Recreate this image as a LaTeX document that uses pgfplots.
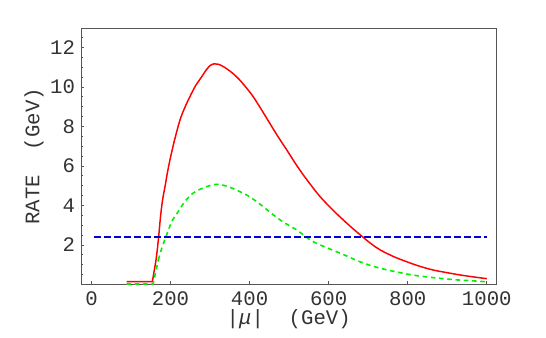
\documentclass[border=0pt]{standalone}
\usepackage{fontspec}
\setmainfont{Liberation Mono}
\usepackage{pgfplots}
\pgfplotsset{compat=1.18}
\definecolor{framegray}{RGB}{85,85,85}
\definecolor{curvered}{RGB}{255,0,0}
\definecolor{curvegreen}{RGB}{0,240,0}
\definecolor{lineblue}{RGB}{0,0,210}

\begin{document}
\begin{tikzpicture}
\path[use as bounding box] (0,0) rectangle (409.5pt,252.75pt);
\begin{axis}[
  at={(60.75pt,39.45pt)}, anchor=south west,
  scale only axis,
  width=311.6pt, height=192.1pt,
  xmin=-26.5, xmax=1024.5,
  ymin=0, ymax=12.97,
  xtick={0,200,...,1000},
  ytick={2,4,...,12},
  minor ytick={0.5,1,1.5,2.5,3,3.5,4.5,5,5.5,6.5,7,7.5,8.5,9,9.5,10.5,11,11.5,12.5},
  xtick pos=left, ytick pos=left,
  tick align=inside,
  major tick length=2.4pt, minor tick length=1.6pt,
  tick style={framegray, line width=0.6pt},
  axis line style={framegray, line width=0.75pt},
  font=\fontsize{15.5}{18}\selectfont,
  ticklabel style={black!80},
  /pgf/number format/assume math mode=true,
  /pgf/number format/1000 sep={},
  yticklabel style={xshift=-1pt},
  xticklabel style={yshift=-2pt},
  xlabel={|{\itshape μ}|~~(GeV)},
  ylabel={RATE~~(GeV)},
  xlabel style={at={(axis description cs:0.5,-0.137)}, anchor=center, black!80},
  ylabel style={at={(axis description cs:-0.113,0.5)}, anchor=center, rotate=0, black!80},
  clip=false,
]
% red solid curve: threshold part, then smooth body
\addplot[curvered, line width=1.1pt] coordinates {
(89,0.14) (154,0.14) (163,1.2) (166.5,1.75) (170,2.42)
};
\addplot[curvered, line width=1.1pt, smooth, tension=0.5] coordinates {
(170,2.42) (175,3.5) (180,4.3)
(186,4.95) (192,5.65) (199,6.35) (210,7.3) (224,8.33) (236,8.95) (249,9.51)
(263,10.05) (279,10.52) (290,10.85) (300,11.08) (310,11.17) (320,11.15)
(330,11.07) (342,10.92)
(358,10.68) (375,10.35) (392,9.95) (409,9.51) (430,8.85) (451,8.16)
(472,7.48) (494,6.81) (515,6.15) (536,5.54) (557,4.98) (578,4.45)
(603,3.92) (628,3.43) (657,2.9) (687,2.39) (708,2.05) (730,1.75)
(763,1.42) (797,1.15) (830,0.92) (864,0.73) (898,0.6) (932,0.48)
(966,0.38) (1000,0.29)
};
% green dashed curve
\addplot[curvegreen, line width=1.2pt, dash pattern=on 3.4pt off 2.8pt] coordinates {
(89,0.02) (156,0.02) (169,1.24)
};
\addplot[curvegreen, line width=1.2pt, dash pattern=on 3.4pt off 2.8pt, smooth, tension=0.5] coordinates {
(169,1.24) (179,1.91) (190,2.5) (203,3.18) (219.5,3.69)
(236,4.19) (257,4.62) (287,4.92) (317,5.07) (346,4.95) (375,4.7) (395,4.5)
(418,4.19) (434,3.94) (455,3.6) (477,3.27) (498,3.0) (519,2.76) (540,2.45)
(562,2.15) (600,1.82) (641,1.48) (670,1.22) (704,0.97) (738,0.78)
(772,0.63) (805,0.5) (839,0.4) (881,0.31) (923,0.23) (965,0.18) (1000,0.13)
};
% blue dashed level
\addplot[lineblue, line width=0.9pt, dash pattern=on 5pt off 2.5pt] coordinates {
(7,2.4) (1000,2.4)
};
\end{axis}
\end{tikzpicture}
\end{document}
